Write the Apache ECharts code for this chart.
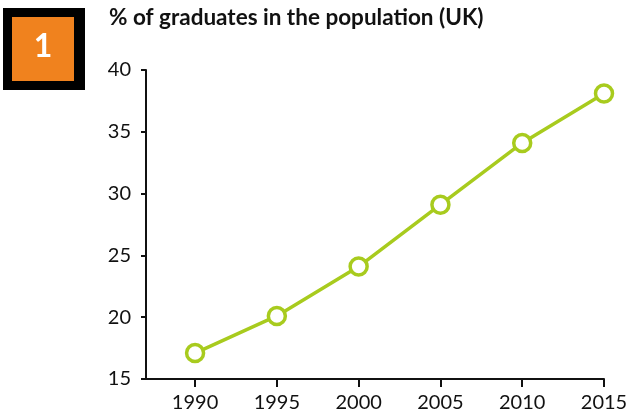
<!DOCTYPE html>
<html>
<head>
<meta charset="utf-8">
<script src="https://cdn.jsdelivr.net/npm/echarts@6/dist/echarts.min.js"></script>
<style>
  html, body { margin: 0; padding: 0; background: #fff; }
  #chart { width: 631px; height: 413px; }
</style>
</head>
<body>
<div id="chart"></div>
<script>
// % of graduates in the population (UK)
const years = [1990, 1995, 2000, 2005, 2010, 2015];
const graduates = [17.1, 20.1, 24.1, 29.1, 34.1, 38.1];
const yTicks = [15, 20, 25, 30, 35, 40];

var chartDom = document.getElementById('chart');
var myChart = echarts.init(chartDom);
var option;

const green = '#a8cb1e';
const font = 'Lato, "Open Sans", sans-serif';

option = {
  animation: false,
  graphic: [
    { type: 'rect', shape: { x: 3, y: 8, width: 82, height: 82 }, style: { fill: '#000' } },
    { type: 'rect', shape: { x: 12, y: 17, width: 62, height: 64 }, style: { fill: '#f0821e' } },
    {
      type: 'text', x: 43, y: 47,
      style: { text: '1', fill: '#fff', font: 'bold 32px ' + font, align: 'center', verticalAlign: 'middle' }
    },
    {
      type: 'text', left: 109, top: 6,
      style: { text: '% of graduates in the population (UK)', fill: '#111', font: 'bold 22.5px ' + font }
    }
  ],
  grid: { left: 146, right: 27, top: 70, bottom: 34 },
  xAxis: {
    type: 'value',
    min: 1987,
    max: 2015,
    splitLine: { show: false },
    axisLine: { lineStyle: { color: '#111', width: 2 } },
    axisTick: { show: true, length: 8, lineStyle: { color: '#111', width: 2 }, customValues: years },
    axisLabel: {
      color: '#111', fontSize: 20, fontFamily: font, margin: 14, customValues: years,
      formatter: v => String(v)
    }
  },
  yAxis: {
    type: 'value',
    min: 15,
    max: 40,
    interval: 5,
    splitLine: { show: false },
    axisLine: { show: true, lineStyle: { color: '#111', width: 2 } },
    axisTick: { show: true, length: 5, lineStyle: { color: '#111', width: 2 }, customValues: yTicks },
    axisLabel: { color: '#111', fontSize: 20, fontFamily: font, margin: 15, customValues: yTicks }
  },
  series: [
    {
      type: 'line',
      data: years.map((y, i) => [y, graduates[i]]),
      symbol: 'circle',
      symbolSize: 17,
      lineStyle: { color: green, width: 3.5 },
      itemStyle: { color: '#fff', borderColor: green, borderWidth: 3.5 }
    }
  ]
};

option && myChart.setOption(option);
</script>
</body>
</html>
